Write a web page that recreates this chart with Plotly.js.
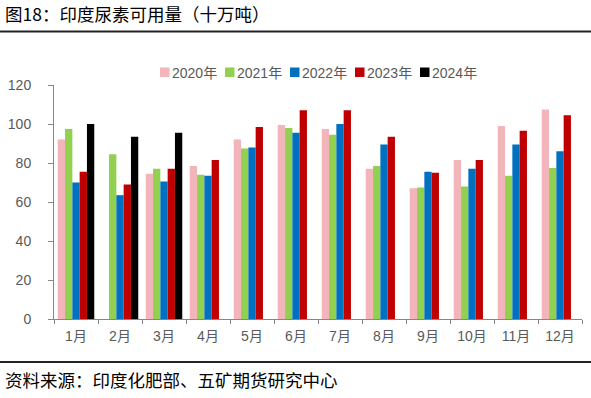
<!DOCTYPE html>
<html>
<head>
<meta charset="utf-8">
<script src="https://cdn.plot.ly/plotly-3.0.1.min.js"></script>
<style>
html,body{margin:0;padding:0;background:#fff;}
#chart{width:591px;height:398px;}
</style>
</head>
<body>
<div id="chart"></div>
<script>
const months = ['1月','2月','3月','4月','5月','6月','7月','8月','9月','10月','11月','12月'];
const seriesNames = ['2020年','2021年','2022年','2023年','2024年'];
const seriesColors = ['#F2B5B9','#92D050','#0070C0','#C00000','#000000'];
const s2020 = [92, null, 74.5, 78.5, 92, 99.5, 97.5, 77, 67, 81.5, 99, 107.5];
const s2021 = [97.5, 84.5, 77, 74, 87.5, 98, 94.5, 78.5, 67.5, 68, 73.5, 77.5];
const s2022 = [70, 63.5, 70.5, 73.5, 88, 95.5, 100, 89.5, 75.5, 77, 89.5, 86];
const s2023 = [75.5, 69, 77, 81.5, 98.5, 107, 107, 93.5, 75, 81.5, 96.5, 104.5];
const s2024 = [100, 93.5, 95.5, null, null, null, null, null, null, null, null, null];
const titleText = '图18：印度尿素可用量（十万吨）';
const sourceText = '资料来源：印度化肥部、五矿期货研究中心';

const allSeries = [s2020, s2021, s2022, s2023, s2024];

const W = 591, H = 398;
const M = {l: 54, r: 9, t: 85, b: 79};
const PW = W - M.l - M.r, PH = H - M.t - M.b;
const px = x => (x - M.l) / PW;
const py = y => (H - M.b - y) / PH;

const traces = allSeries.map((vals, i) => ({
  type: 'bar',
  name: seriesNames[i],
  x: months,
  y: vals,
  marker: {color: seriesColors[i], line: {width: 0}},
  showlegend: false,
  hoverinfo: 'x+y+name'
}));

const shapes = [];
const annotations = [];

// custom legend
const legStart = 160, legStep = 65, sq = 9.5;
seriesNames.forEach((n, i) => {
  const x0 = legStart + i * legStep;
  shapes.push({type: 'rect', xref: 'paper', yref: 'paper',
    x0: px(x0), x1: px(x0 + sq), y0: py(77), y1: py(67.5),
    fillcolor: seriesColors[i], line: {width: 0}});
  annotations.push({xref: 'paper', yref: 'paper', x: px(x0 + sq), y: py(72.5),
    xanchor: 'left', yanchor: 'middle', showarrow: false, text: n,
    font: {family: 'Liberation Sans, Noto Sans CJK SC', size: 14, color: '#595959'}});
});

// title and rules
annotations.push({xref: 'paper', yref: 'paper', x: px(3), y: py(13.5),
  xanchor: 'left', yanchor: 'middle', showarrow: false, text: titleText,
  font: {family: 'Noto Sans CJK SC', size: 17.5, color: '#000'}});
shapes.push({type: 'line', xref: 'paper', yref: 'paper',
  x0: px(0), x1: px(W), y0: py(31.5), y1: py(31.5), line: {color: '#222', width: 2}});
shapes.push({type: 'line', xref: 'paper', yref: 'paper',
  x0: px(0), x1: px(W), y0: py(362), y1: py(362), line: {color: '#222', width: 2}});
annotations.push({xref: 'paper', yref: 'paper', x: px(3), y: py(379.5),
  xanchor: 'left', yanchor: 'middle', showarrow: false, text: sourceText,
  font: {family: 'Noto Sans CJK SC', size: 17.5, color: '#000'}});

const layout = {
  width: W, height: H,
  margin: M,
  paper_bgcolor: '#fff', plot_bgcolor: '#fff',
  barmode: 'group', bargap: 0.17, bargroupgap: 0,
  showlegend: false,
  font: {family: 'Liberation Sans, Noto Sans CJK SC', size: 14, color: '#595959'},
  xaxis: {
    type: 'category', showline: true, linecolor: '#868686', linewidth: 1,
    ticks: 'outside', tickson: 'boundaries', ticklen: 4, tickcolor: '#868686',
    showgrid: false, zeroline: false,
    tickfont: {family: 'Liberation Sans, Noto Sans CJK SC', size: 14, color: '#595959'},
    ticklabelstandoff: 4
  },
  yaxis: {
    range: [0, 120], dtick: 20, showline: true, linecolor: '#868686', linewidth: 1,
    ticks: 'outside', ticklen: 5, tickcolor: '#868686',
    showgrid: false, zeroline: false,
    tickfont: {family: 'Liberation Sans, Noto Sans CJK SC', size: 14, color: '#595959'},
    ticklabelstandoff: 14
  },
  shapes: shapes,
  annotations: annotations
};

Plotly.newPlot('chart', traces, layout, {displayModeBar: false, staticPlot: true});
</script>
</body>
</html>
